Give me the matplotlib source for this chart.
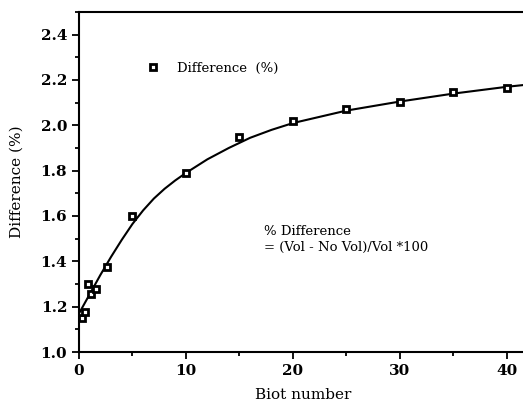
import matplotlib
matplotlib.use('Agg')
import matplotlib.pyplot as plt
from matplotlib.ticker import MultipleLocator

# measured points
biot = [0.25, 0.55, 0.85, 1.1, 1.6, 2.6, 5, 10, 15, 20, 25, 30, 35, 40]
diff = [1.15, 1.175, 1.30, 1.255, 1.28, 1.375, 1.60, 1.79, 1.95, 2.02, 2.07, 2.105, 2.145, 2.165]

# fitted curve
fit_x = [0, 1, 2, 3, 4, 5, 6, 7, 8, 9, 10, 12, 14, 16, 18, 20, 25, 30, 35, 40, 42]
fit_y = [1.17, 1.255, 1.34, 1.42, 1.495, 1.565, 1.625, 1.677, 1.72, 1.757, 1.79,
         1.85, 1.90, 1.945, 1.98, 2.01, 2.065, 2.105, 2.14, 2.17, 2.18]

plt.rcParams['font.family'] = 'DejaVu Serif'

fig = plt.figure(figsize=(5.23, 4.09), dpi=100)
ax = fig.add_axes([79/523, 1 - 352/409, 1 - 79/523 + 0.01, 340/409])

ax.plot(fit_x, fit_y, color='black', linewidth=1.5, zorder=2)
ax.plot(biot, diff, linestyle='none', marker='s', markersize=5,
        markerfacecolor='white', markeredgecolor='black', markeredgewidth=2,
        label='Difference  (%)', zorder=3)

ax.set_xlim(0, 42)
ax.set_ylim(1.0, 2.5)
ax.xaxis.set_major_locator(MultipleLocator(10))
ax.xaxis.set_minor_locator(MultipleLocator(5))
ax.yaxis.set_major_locator(MultipleLocator(0.2))
ax.yaxis.set_minor_locator(MultipleLocator(0.1))
ax.yaxis.set_major_formatter(matplotlib.ticker.FormatStrFormatter('%.1f'))
ax.tick_params(which='major', direction='out', length=5, width=1.3, labelsize=11)
ax.tick_params(which='minor', direction='out', length=3, width=1.3)
for lab in ax.get_xticklabels() + ax.get_yticklabels():
    lab.set_fontweight('bold')

for s in ax.spines.values():
    s.set_linewidth(1.5)
ax.spines['right'].set_visible(False)

ax.set_xlabel('Biot number', fontsize=11, labelpad=7)
ax.set_ylabel('Difference (%)', fontsize=11, labelpad=12)

ax.legend(loc='center left', bbox_to_anchor=(0.11, 0.835), frameon=False,
          fontsize=9.5, handletextpad=0.8, markerscale=0.9)

ax.text(17.3, 1.56, '% Difference\n= (Vol - No Vol)/Vol *100', fontsize=9.5,
        va='top', ha='left', linespacing=1.3)

fig.savefig('out.png', dpi=100)
